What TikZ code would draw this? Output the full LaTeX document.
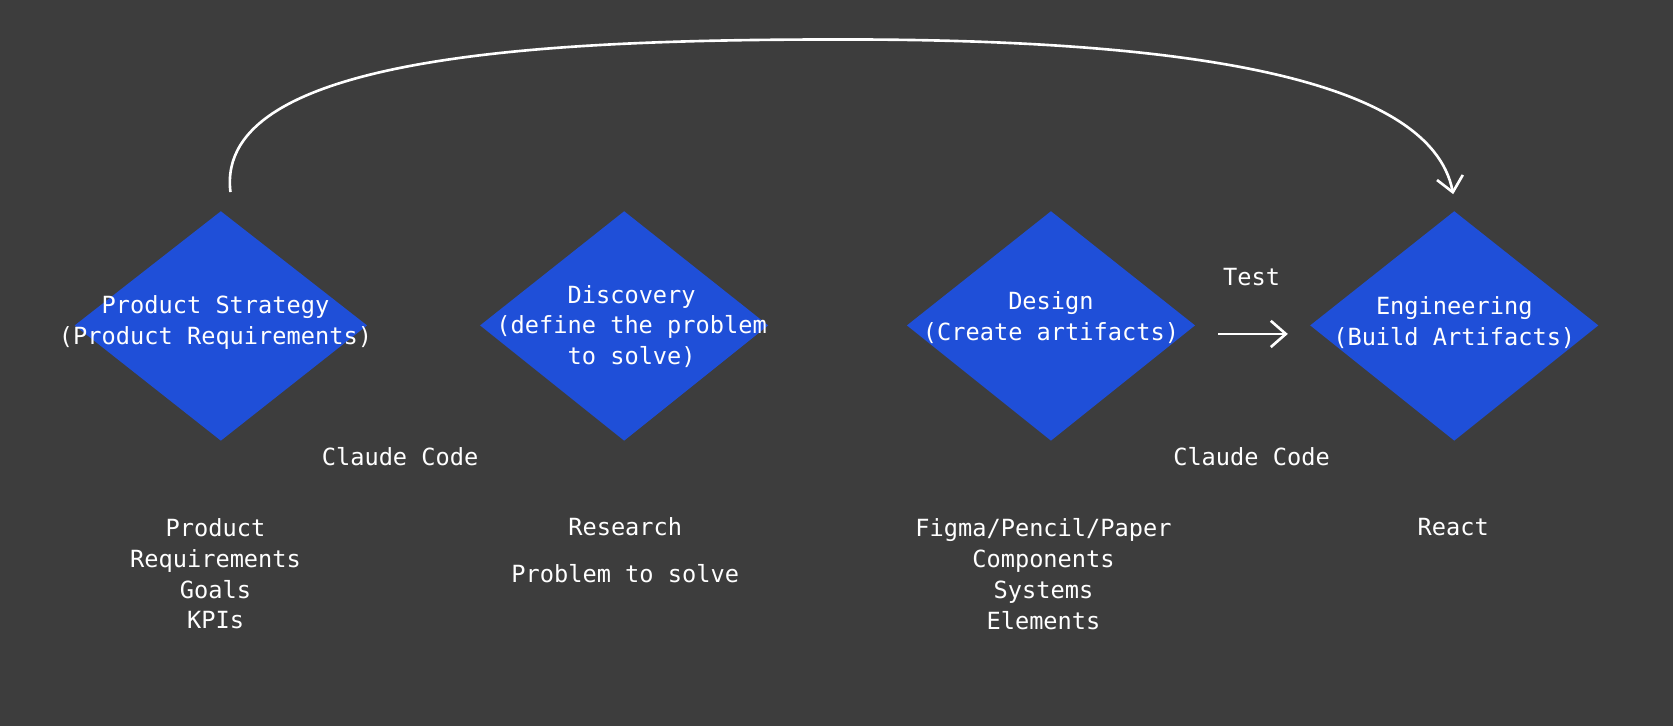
\documentclass[tikz,border=0pt]{standalone}
\usepackage{fontspec}
\setmonofont{DejaVu Sans Mono}
\usetikzlibrary{arrows.meta}
\definecolor{bg}{HTML}{3D3D3D}
\definecolor{dia}{HTML}{1F4FD8}
\begin{document}
\begin{tikzpicture}[x=0.01cm,y=-0.01cm,
  txt/.style={text=white,font=\ttfamily\fontsize{6.3}{8.2}\selectfont,align=center,inner sep=0pt},
  dshape/.style={fill=dia},
  conn/.style={draw=white,line width=0.7pt,-{Straight Barb[length=4pt,width=7pt]}}]
\fill[bg] (0,0) rectangle (1568,680);
\useasboundingbox (0,0) rectangle (1568,680);
\foreach \cx/\hw in {207/137,585/135,985/135,1363/135}{
  \fill[dshape] (\cx-\hw,305) -- (\cx,198) -- (\cx+\hw,305) -- (\cx,413) -- cycle;}
\node[txt] (ps) at (202,302) {Product Strategy\\(Product Requirements)};
\node[txt] (di) at (592,306) {Discovery\\(define the problem\\to solve)};
\node[txt] (de) at (985,298) {Design\\(Create artifacts)};
\node[txt] (en) at (1363,302) {Engineering\\(Build Artifacts)};
\node[txt] (cc1) at (375,428) {Claude Code};
\node[txt] (cc2) at (1173,428) {Claude Code};
\node[txt] (test) at (1173,260) {Test};
\node[txt] (l1) at (202,538) {Product\\Requirements\\Goals\\KPIs};
\node[txt] (l2a) at (586,494) {Research};
\node[txt] (l2b) at (586,538) {Problem to solve};
\node[txt] (l3) at (978,538) {Figma/Pencil/Paper\\Components\\Systems\\Elements};
\node[txt] (l4) at (1362,494) {React};
\coordinate (s) at (216,180);
\coordinate (e) at (1362,182);
\coordinate (t1) at (1142,313);
\coordinate (t2) at (1207,313);
\draw[conn] (s) .. controls (200,50) and (520,37) .. (790,37) .. controls (1100,37) and (1340,70) .. (e);
\draw[conn] (t1) -- (t2);
\end{tikzpicture}
\end{document}
